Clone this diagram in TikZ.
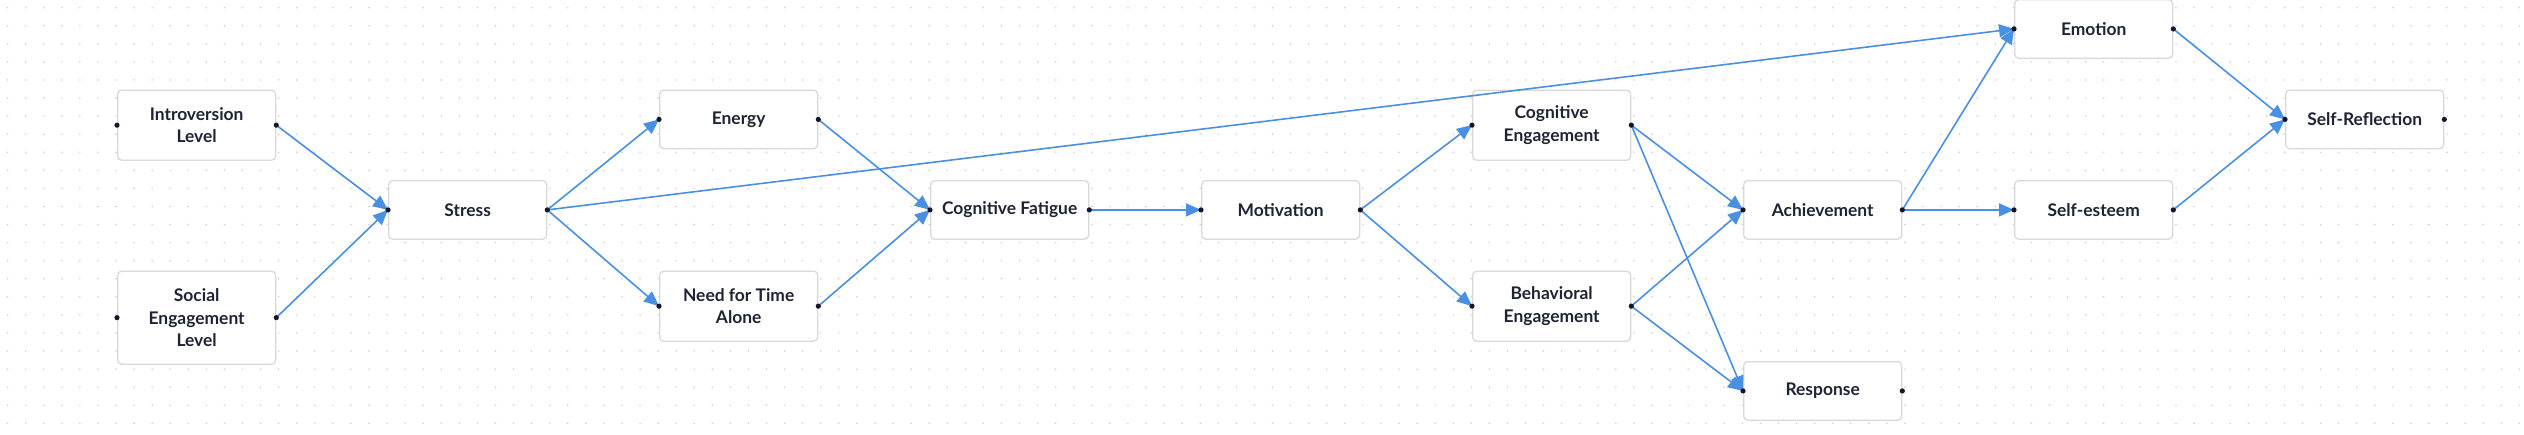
\documentclass[tikz,border=0pt]{standalone}
\usepackage{fontspec}
\setmainfont{Lato}
\usetikzlibrary{arrows.meta}
\definecolor{edgeblue}{HTML}{4A90E2}
\definecolor{boxline}{HTML}{D9D9D9}
\definecolor{txt}{HTML}{1E2433}
\definecolor{anch}{HTML}{16162A}
\definecolor{griddot}{HTML}{CCCCCC}
\begin{document}
\begin{tikzpicture}[x=1pt,y=-1pt,
  box/.style={draw=boxline, fill=white, line width=1.3pt, rounded corners=4pt,
    minimum width=158pt, inner sep=0pt, anchor=north west, align=center,
    text=txt, font=\fontsize{17.4}{22.7}\selectfont\bfseries},
  hone/.style={minimum height=58.5pt},
  htwo/.style={minimum height=70pt},
  hthree/.style={minimum height=93pt},
  edge/.style={draw=edgeblue, line width=1.6pt, -{Triangle[length=15pt,width=13pt]}},
]
\useasboundingbox (0,0) rectangle (2524,434);
\fill[white] (0,0) rectangle (2524,434);
\foreach \i in {0,...,139}{\foreach \j in {0,...,23}{\fill[griddot] (7.6+18.07*\i,7.7+18.07*\j) circle (0.85);}}

% nodes
\node[box,htwo]   (intro)   at (117,89.5)  {Introversion\\Level};
\node[box,hthree] (social)  at (117,270.5) {Social\\Engagement\\Level};
\node[box,hone]   (stress)  at (388,180)   {Stress};
\node[box,hone]   (energy)  at (659,89.5)  {Energy};
\node[box,htwo]   (need)    at (659,270.5) {Need for Time\\Alone};
\node[box,hone]   (fatigue) at (930,180)   {Cognitive Fatigue};
\node[box,hone]   (motiv)   at (1201,180)  {Motivation};
\node[box,htwo]   (cogeng)  at (1472,89.5) {Cognitive\\Engagement};
\node[box,htwo]   (beheng)  at (1472,270.5){Behavioral\\Engagement};
\node[box,hone]   (achiev)  at (1743,180)  {Achievement};
\node[box,hone]   (resp)    at (1743,361)  {Response};
\node[box,hone]   (emotion) at (2014,-1)   {Emotion};
\node[box,hone]   (esteem)  at (2014,180)  {Self-esteem};
\node[box,hone]   (selfref) at (2285,89.5) {Self-Reflection};

% edges
\draw[edge] (intro.east) -- (stress.west);
\draw[edge] (social.east) -- (stress.west);
\draw[edge] (stress.east) -- (energy.west);
\draw[edge] (stress.east) -- (need.west);
\draw[edge] (stress.east) -- (emotion.west);
\draw[edge] (energy.east) -- (fatigue.west);
\draw[edge] (need.east) -- (fatigue.west);
\draw[edge] (fatigue.east) -- (motiv.west);
\draw[edge] (motiv.east) -- (cogeng.west);
\draw[edge] (motiv.east) -- (beheng.west);
\draw[edge] (cogeng.east) -- (achiev.west);
\draw[edge] (cogeng.east) -- (resp.west);
\draw[edge] (beheng.east) -- (achiev.west);
\draw[edge] (beheng.east) -- (resp.west);
\draw[edge] (achiev.east) -- (emotion.west);
\draw[edge] (achiev.east) -- (esteem.west);
\draw[edge] (emotion.east) -- (selfref.west);
\draw[edge] (esteem.east) -- (selfref.west);

% anchor dots
\foreach \n in {intro,social,stress,energy,need,fatigue,motiv,cogeng,beheng,achiev,resp,emotion,esteem,selfref}{
  \fill[anch] (\n.west) circle (2.6);
  \fill[anch] (\n.east) circle (2.6);
}
\end{tikzpicture}
\end{document}
